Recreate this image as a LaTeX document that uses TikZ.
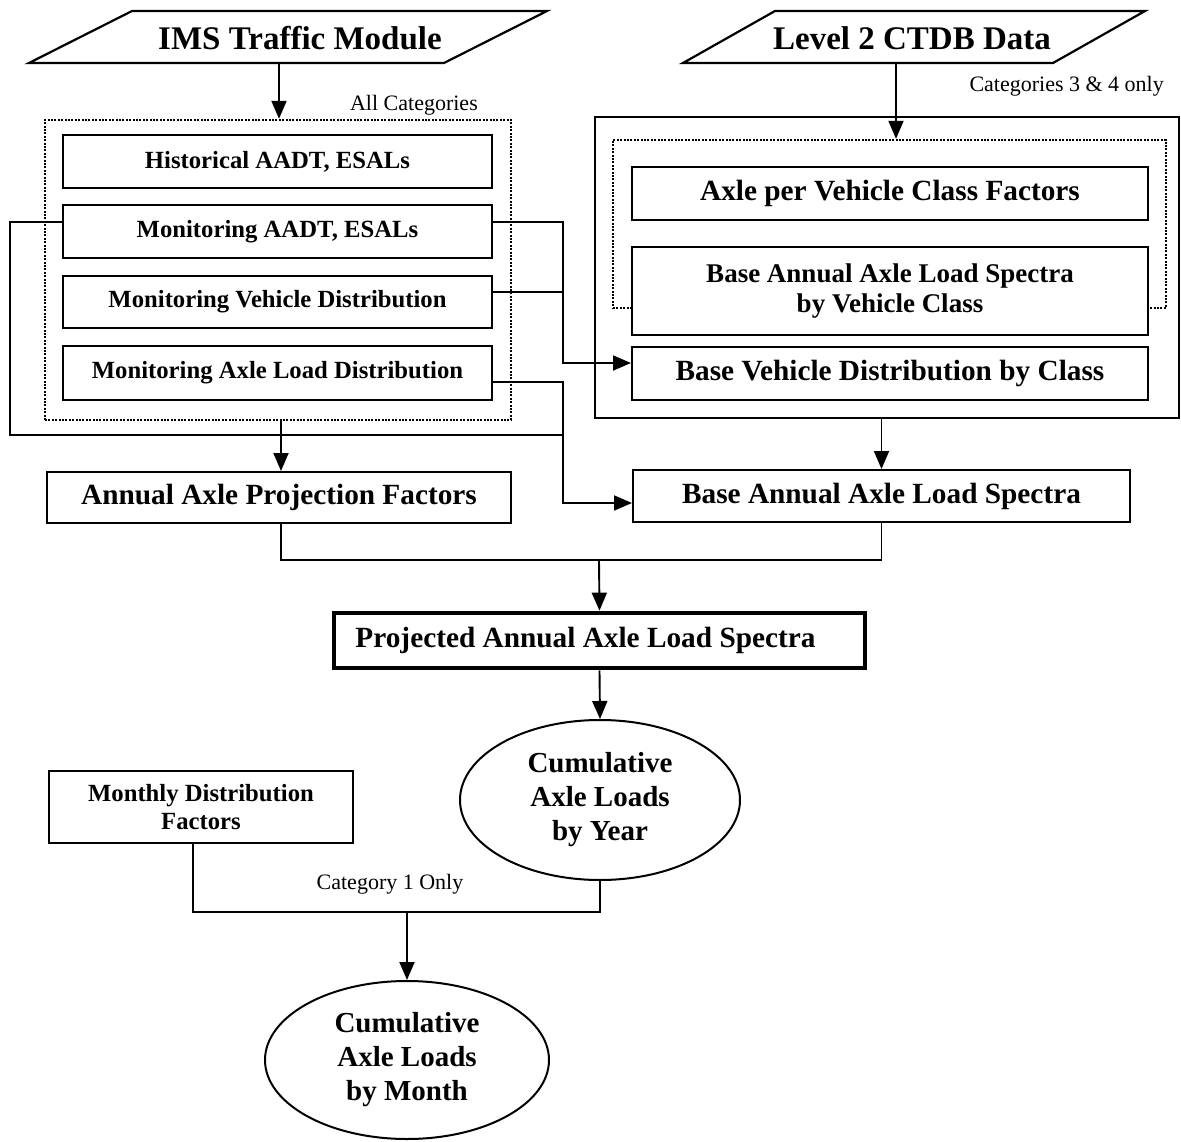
\documentclass[tikz,border=0pt]{standalone}
\usepackage{fontspec}
\setmainfont{Liberation Serif}
\usetikzlibrary{arrows.meta,shapes.geometric}
\begin{document}
\begin{tikzpicture}[x=1pt,y=-1pt,
  box/.style={draw, line width=2pt, fill=white, inner sep=0pt, align=center},
  grpdot/.style={draw, line width=2.4pt, dash pattern=on 2pt off 1.4pt, inner sep=0pt},
  conn/.style={line width=1.9pt},
  arr/.style={line width=1.9pt, -{Triangle[length=18pt,width=15pt]}},
  para/.style={line width=2.2pt},
  fs/.style={font=\bfseries\fontsize{24.7}{28}\selectfont},
  fm/.style={font=\bfseries\fontsize{29.3}{31}\selectfont},
  ftitle/.style={font=\bfseries\fontsize{33}{36}\selectfont},
  fell/.style={font=\bfseries\fontsize{29}{34}\selectfont},
  flbl/.style={font=\fontsize{22}{24}\selectfont, inner sep=0pt},
  oval/.style={draw, ellipse, line width=2pt, inner sep=0pt, align=center}
]
\useasboundingbox (0,0) rectangle (1181,1142);

% ---------- input parallelograms ----------
\draw[para] (132,11) -- (547,11) -- (444,63) -- (29,63) -- cycle;
\node[ftitle] (ims) at (300,38) {IMS Traffic Module};
\coordinate (imsB) at (279,63);

\draw[para] (775,11) -- (1145,11) -- (1053,63) -- (683,63) -- cycle;
\node[ftitle] (ctdb) at (912,38) {Level 2 CTDB Data};
\coordinate (ctdbB) at (896,63);

% ---------- labels ----------
\node[flbl, anchor=east] (lblAll) at (478,105) {All Categories};
\node[flbl, anchor=east] (lbl34) at (1164,86) {Categories 3 \& 4 only};

% ---------- left group ----------
\node[grpdot, minimum width=466pt, minimum height=300pt] (grpL) at (278,270) {};
\node[box, fs, minimum width=429pt, minimum height=53pt] (hist) at (277.5,161.5) {Historical AADT, ESALs};
\node[box, fs, minimum width=429pt, minimum height=53pt] (monAADT) at (277.5,231.5) {Monitoring AADT, ESALs};
\node[box, fs, minimum width=429pt, minimum height=52pt] (monVeh) at (277.5,302) {Monitoring Vehicle Distribution};
\node[box, fs, minimum width=429pt, minimum height=54pt] (monAxle) at (277.5,373) {Monitoring Axle Load Distribution};

% ---------- right group ----------
\node[draw, line width=2pt, inner sep=0pt, minimum width=584pt, minimum height=301pt] (grpR) at (887,267.5) {};
\node[grpdot, minimum width=553pt, minimum height=168pt] (grpRd) at (889.5,224) {};
\node[box, fm, minimum width=516pt, minimum height=53pt] (axleVC) at (890,193.5) {Axle per Vehicle Class Factors};
\node[box, font=\bfseries\fontsize{27}{30.5}\selectfont, minimum width=516pt, minimum height=88pt] (baseSpecVC) at (890,291) {Base Annual Axle Load Spectra\\by Vehicle Class};
\node[box, fm, minimum width=516pt, minimum height=53pt] (baseVeh) at (890,373.5) {Base Vehicle Distribution by Class};

% ---------- middle row ----------
\node[box, fm, minimum width=464pt, minimum height=51pt] (annual) at (279,497.5) {Annual Axle Projection Factors};
\node[box, fm, minimum width=497pt, minimum height=52pt] (baseAnn) at (881.5,496) {Base Annual Axle Load Spectra};

\node[box, fm, line width=4.8pt, minimum width=531pt, minimum height=55pt] (proj) at (599.5,640.5) {Projected Annual Axle Load Spectra\hspace*{28pt}};

\node[oval, fell, minimum width=280pt, minimum height=160pt] (yearE) at (600,800) {Cumulative\\Axle Loads\\by Year};
\node[box, fs, minimum width=304pt, minimum height=72pt] (monthly) at (201,807) {Monthly Distribution\\Factors};
\node[flbl] (lbl1) at (390,884) {Category 1 Only};
\node[oval, fell, minimum width=284pt, minimum height=158pt] (monthE) at (407,1060) {Cumulative\\Axle Loads\\by Month};

% ---------- connectors ----------
\draw[arr] (imsB) -- (imsB |- grpL.north);
\draw[arr] (ctdbB) -- (ctdbB |- grpRd.north);

\coordinate (jx) at (563,435);
\draw[conn] ([yshift=9.5pt]monAADT.west) -- (10,222) -- (10,435) -- (jx);
\draw[arr] ([yshift=9.5pt]monAADT.east) -- (563,222) -- (563,363) -- ([yshift=10.5pt]baseVeh.west);
\draw[conn] ([yshift=10pt]monVeh.east) -- (563,292);
\draw[arr] ([yshift=-9pt]monAxle.east) -- (563,382) -- (563,503) -- ([yshift=-7pt]baseAnn.west);

\draw[arr] (grpL.south -| 281,0) -- (annual.north -| 281,0);
\draw[arr] (baseAnn.north |- grpR.south) -- (baseAnn.north);

\coordinate (j1) at (599,560);
\draw[conn] ([xshift=2pt]annual.south) |- (j1);
\draw[conn] (baseAnn.south) |- (j1);
\draw[arr] (j1) -- (proj.north);
\draw[arr] (proj.south) -- (yearE.north);

\coordinate (j2) at (407,912);
\draw[conn] ([xshift=-8pt]monthly.south) |- (j2);
\draw[conn] (yearE.south) |- (j2);
\draw[arr] (j2) -- (monthE.north);
\end{tikzpicture}
\end{document}
